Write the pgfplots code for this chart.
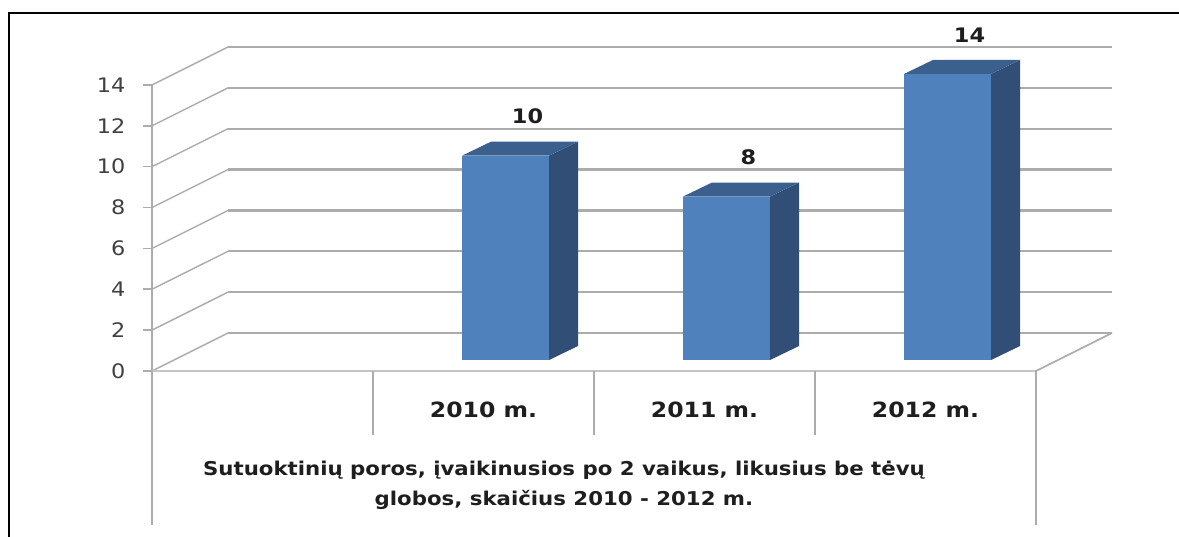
\documentclass[border=0pt]{standalone}
\usepackage{fontspec}
\setmainfont{DejaVu Sans}[FakeStretch=1.12]
\usepackage{pgfplots}
\pgfplotsset{compat=1.18}

\definecolor{barfront}{RGB}{79,129,189}
\definecolor{barside}{RGB}{48,78,118}
\definecolor{bartop}{RGB}{60,96,142}
\definecolor{gridc}{RGB}{172,172,172}
\definecolor{txt}{RGB}{30,30,30}

\begin{document}
\begin{tikzpicture}
\useasboundingbox (0,0) rectangle (1179pt,537pt);
\fill[white] (0,0) rectangle (1179pt,537pt);
\draw[black, line width=2.2pt] (9pt,0) -- (9pt,524pt) -- (1179pt,524pt);

\begin{axis}[
    at={(152pt,166pt)}, anchor=origin,
    x=221pt, y=20.43pt,
    xmin=0, xmax=4, ymin=0, ymax=14,
    clip=false,
    axis x line=none,
    axis y line*=left,
    y axis line style={gridc, line width=2pt, -},
    ytick={0,2,...,14},
    tick align=outside,
    major tick length=9pt,
    tick style={gridc, line width=1.6pt},
    yticklabel style={font=\fontsize{20}{20}\selectfont, text=txt!85, xshift=-14pt},
    /pgf/number format/assume math mode=true,
    nodes near coords,
    every node near coord/.append style={anchor=center, xshift=44pt, yshift=50pt,
        font=\fontsize{20}{20}\selectfont\bfseries, text=txt},
]
% back wall and left wall grid
\draw[gridc, line width=2.2pt] (axis cs:0.344,1.86) -- (axis cs:4.344,1.86);
\draw[gridc, line width=2.2pt] (axis cs:0.344,3.86) -- (axis cs:4.344,3.86);
\draw[gridc, line width=2.2pt] (axis cs:0.344,5.86) -- (axis cs:4.344,5.86);
\draw[gridc, line width=2.2pt] (axis cs:0.344,7.86) -- (axis cs:4.344,7.86);
\draw[gridc, line width=2.2pt] (axis cs:0.344,9.86) -- (axis cs:4.344,9.86);
\draw[gridc, line width=2.2pt] (axis cs:0.344,11.86) -- (axis cs:4.344,11.86);
\draw[gridc, line width=2.2pt] (axis cs:0.344,13.86) -- (axis cs:4.344,13.86);
\draw[gridc, line width=2.2pt] (axis cs:0.344,15.86) -- (axis cs:4.344,15.86);
\draw[gridc, line width=1.4pt] (axis cs:0,0) -- (axis cs:0.344,1.86);
\draw[gridc, line width=1.4pt] (axis cs:0,2) -- (axis cs:0.344,3.86);
\draw[gridc, line width=1.4pt] (axis cs:0,4) -- (axis cs:0.344,5.86);
\draw[gridc, line width=1.4pt] (axis cs:0,6) -- (axis cs:0.344,7.86);
\draw[gridc, line width=1.4pt] (axis cs:0,8) -- (axis cs:0.344,9.86);
\draw[gridc, line width=1.4pt] (axis cs:0,10) -- (axis cs:0.344,11.86);
\draw[gridc, line width=1.4pt] (axis cs:0,12) -- (axis cs:0.344,13.86);
\draw[gridc, line width=1.4pt] (axis cs:0,14) -- (axis cs:0.344,15.86);
% floor and category table
\draw[gridc!70, line width=2.4pt] (axis cs:0,0) -- (axis cs:4,0);
\draw[gridc, line width=1.6pt] (axis cs:4,0) -- (axis cs:4.344,1.86);
\draw[gridc, line width=1.8pt] (axis cs:0,0) -- (axis cs:0,-7.54);
\draw[gridc, line width=1.8pt] (axis cs:4,0) -- (axis cs:4,-7.54);
\draw[gridc, line width=1.8pt] (axis cs:1,0) -- (axis cs:1,-3.13);
\draw[gridc, line width=1.8pt] (axis cs:2,0) -- (axis cs:2,-3.13);
\draw[gridc, line width=1.8pt] (axis cs:3,0) -- (axis cs:3,-3.13);
\node[font=\fontsize{21}{21}\selectfont\bfseries, text=txt] at (axis cs:1.5,-1.91) {2010 m.};
\node[font=\fontsize{21}{21}\selectfont\bfseries, text=txt] at (axis cs:2.5,-1.91) {2011 m.};
\node[font=\fontsize{21}{21}\selectfont\bfseries, text=txt] at (axis cs:3.5,-1.91) {2012 m.};
\node[font=\fontsize{19}{30}\selectfont\bfseries, text=txt, align=center] at (axis cs:1.864,-5.58)
    {Sutuoktinių poros, įvaikinusios po 2 vaikus, likusius be tėvų\\globos, skaičius 2010 - 2012 m.};

% bars: 2010 = 10
\addplot[fill=barfront, draw=none, nodes near coords=] coordinates {(1.403,0.54) (1.797,0.54) (1.797,10.54) (1.403,10.54)} --cycle;
\addplot[fill=barside, draw=none, nodes near coords=] coordinates {(1.797,0.54) (1.928,1.225) (1.928,11.225) (1.797,10.54)} --cycle;
\addplot[fill=bartop, draw=none, nodes near coords=] coordinates {(1.403,10.54) (1.534,11.225) (1.928,11.225) (1.797,10.54)} --cycle;
% 2011 = 8
\addplot[fill=barfront, draw=none, nodes near coords=] coordinates {(2.403,0.54) (2.797,0.54) (2.797,8.54) (2.403,8.54)} --cycle;
\addplot[fill=barside, draw=none, nodes near coords=] coordinates {(2.797,0.54) (2.928,1.225) (2.928,9.225) (2.797,8.54)} --cycle;
\addplot[fill=bartop, draw=none, nodes near coords=] coordinates {(2.403,8.54) (2.534,9.225) (2.928,9.225) (2.797,8.54)} --cycle;
% 2012 = 14
\addplot[fill=barfront, draw=none, nodes near coords=] coordinates {(3.403,0.54) (3.797,0.54) (3.797,14.54) (3.403,14.54)} --cycle;
\addplot[fill=barside, draw=none, nodes near coords=] coordinates {(3.797,0.54) (3.928,1.225) (3.928,15.225) (3.797,14.54)} --cycle;
\addplot[fill=bartop, draw=none, nodes near coords=] coordinates {(3.403,14.54) (3.534,15.225) (3.928,15.225) (3.797,14.54)} --cycle;

% value labels
\addplot[draw=none, mark=none] coordinates {(1.5,10) (2.5,8) (3.5,14)};
\end{axis}
\end{tikzpicture}
\end{document}
